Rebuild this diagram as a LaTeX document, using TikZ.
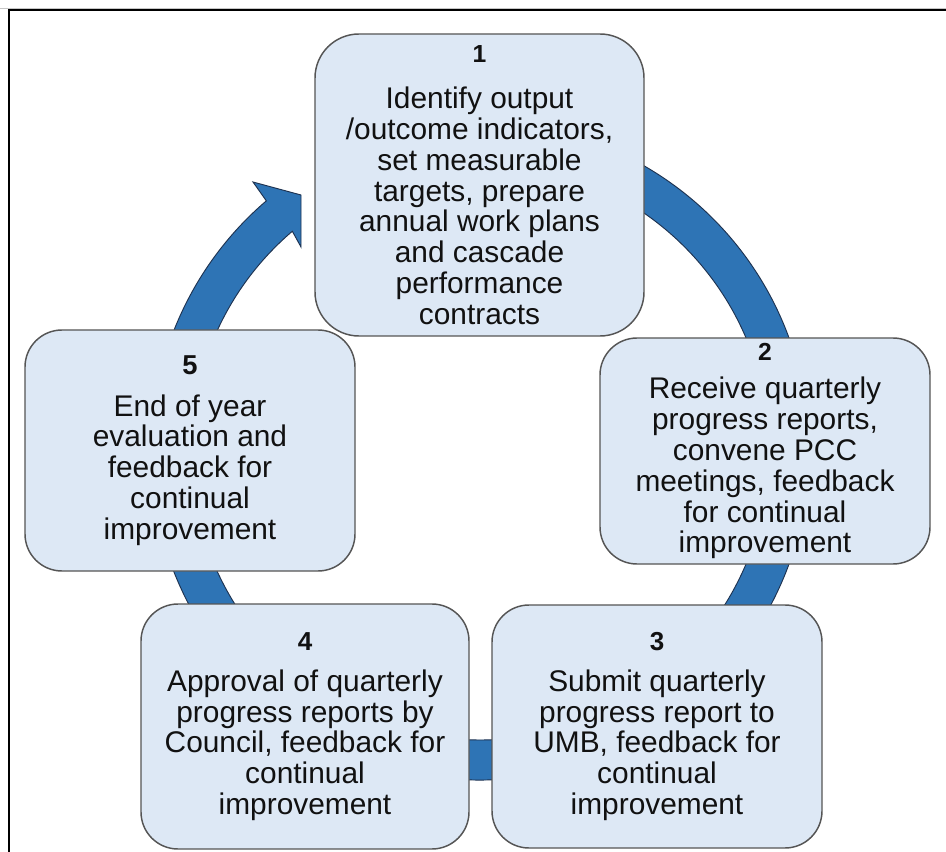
\documentclass[tikz,border=0pt]{standalone}
\usepackage{fontspec}
\setmainfont{Liberation Sans}
\definecolor{boxfill}{RGB}{221,232,245}
\definecolor{boxline}{RGB}{85,85,85}
\definecolor{ringblue}{RGB}{46,116,181}
\definecolor{ringline}{RGB}{30,50,80}
\definecolor{textcol}{RGB}{17,17,17}
\begin{document}
\begin{tikzpicture}[x=0.75pt,y=-0.75pt,
  stage/.style={draw=boxline, line width=1.1pt, fill=boxfill,
    rounded corners=27.75pt, inner sep=0pt, outer sep=0pt,
    align=center, text=textcol,
    font=\fontsize{22.4}{23.1}\selectfont},
  ring/.style={fill=ringblue, draw=ringline, line width=0.7pt, line join=miter},
]
\useasboundingbox (0,0) rectangle (946,852);

% page frame
\draw[gray!45, line width=0.75pt] (0,9) -- (946,9);
\draw[black, line width=1.5pt] (8.5,870) -- (8.5,10.5) -- (960,10.5);

% circular arrow behind the stages
\begin{scope}[shift={(480,451)}]
  \draw[ring] (-100:329) arc[start angle=-100, end angle=229.5, radius=329]
    -- (-227,-269) -- (-179,-256) -- (-179,-204)
    -- (229.5:289) arc[start angle=229.5, end angle=-100, radius=289] -- cycle;
\end{scope}

% stages
\node[stage, rounded corners=33pt, minimum width=246.75pt, minimum height=226.5pt]
  (s1) at (479.5,185)
  {{\fontsize{18.5}{19}\selectfont\bfseries 1}\\[11.6pt]
   Identify output\\/outcome indicators,\\set measurable\\targets, prepare\\
   annual work plans\\and cascade\\performance\\contracts};

\node[stage, minimum width=247.5pt, minimum height=169.5pt]
  (s2) at (765,451)
  {{\fontsize{18.5}{19}\selectfont\bfseries 2}\\[6pt]
   Receive quarterly\\progress reports,\\convene PCC\\meetings, feedback\\
   for continual\\improvement};

\node[stage, minimum width=247.5pt, minimum height=182.25pt]
  (s3) at (657,726.5)
  {{\fontsize{19.5}{22}\selectfont\bfseries 3}\\[7.5pt]
   Submit quarterly\\progress report to\\UMB, feedback for\\continual\\improvement};

\node[stage, minimum width=246pt, minimum height=183.75pt]
  (s4) at (305,726.5)
  {{\fontsize{19.5}{22}\selectfont\bfseries 4}\\[7.8pt]
   Approval of quarterly\\progress reports by\\Council, feedback for\\continual\\improvement};

\node[stage, minimum width=247.5pt, minimum height=180.75pt]
  (s5) at (190,450.5)
  {{\fontsize{20.5}{22}\selectfont\bfseries 5}\\[8.2pt]
   End of year\\evaluation and\\feedback for\\continual\\improvement};
\end{tikzpicture}
\end{document}
